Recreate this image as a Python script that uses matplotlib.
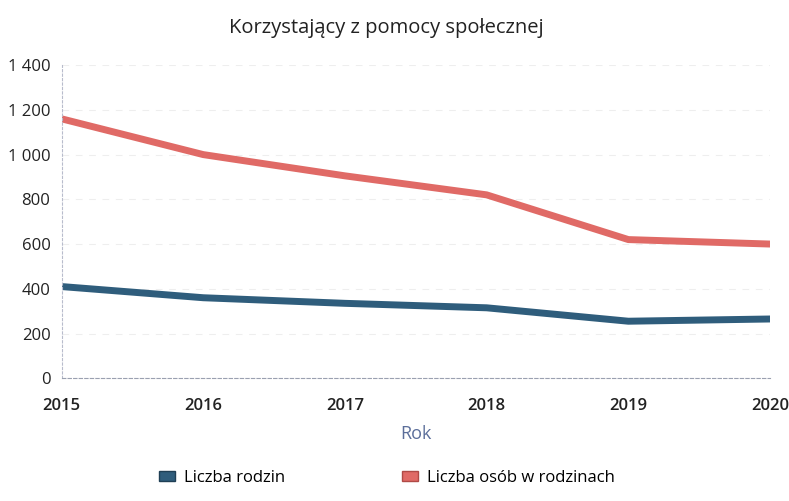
import matplotlib.pyplot as plt
from matplotlib.patches import Patch
import numpy as np

plt.rcParams['font.family'] = ['Open Sans', 'DejaVu Sans']

# years on the x axis
years = np.array([2015, 2016, 2017, 2018, 2019, 2020])

# series values
rodziny = np.array([410, 360, 335, 315, 255, 265])
osoby = np.array([1160, 1000, 905, 820, 620, 600])

yticks = [0, 200, 400, 600, 800, 1000, 1200, 1400]
ylabels = ['0', '200', '400', '600', '800', '1 000', '1 200', '1 400']

blue = '#2f5d7c'
red = '#e06a66'

fig = plt.figure(figsize=(7.89, 5.01), dpi=100)
ax = fig.add_axes([0.078, 0.245, 0.898, 0.625])

ax.plot(years, rodziny, color=blue, lw=5, solid_capstyle='butt')
ax.plot(years, osoby, color=red, lw=5, solid_capstyle='butt')

ax.set_xlim(2015, 2020)
ax.set_ylim(0, 1400)
ax.set_xticks(years)
ax.set_yticks(yticks)
ax.set_yticklabels(ylabels)
ax.tick_params(length=0, labelsize=12, colors='#222222', pad=8)
ax.tick_params(axis='x', pad=14)
for lbl in ax.get_xticklabels():
    lbl.set_fontweight('semibold')

ax.grid(axis='y', color='#eeeeee', lw=0.8, ls=(0, (6, 6)))
for s in ['top', 'right']:
    ax.spines[s].set_visible(False)
ax.spines['left'].set_color('#b8bccc')
ax.spines['left'].set_linestyle((0, (2, 2)))
ax.spines['bottom'].set_color('#9aa0b0')
ax.spines['bottom'].set_linestyle((0, (3, 2)))

ax.set_xlabel('Rok', fontsize=13, color='#5b6e9a', labelpad=8)
fig.suptitle('Korzystający z pomocy społecznej', fontsize=14.5,
             color='#222222', x=0.49, y=0.965)

handles = [Patch(facecolor=blue, edgecolor='#1f3f55', label='Liczba rodzin'),
           Patch(facecolor=red, edgecolor='#b04a46',
                 label='Liczba osób w rodzinach')]
fig.legend(handles=handles, loc='lower center', ncol=2, frameon=False,
           fontsize=12, bbox_to_anchor=(0.49, 0.0), handlelength=1.0,
           handleheight=0.5, columnspacing=7, handletextpad=0.5)

fig.savefig('out.png', dpi=100)
